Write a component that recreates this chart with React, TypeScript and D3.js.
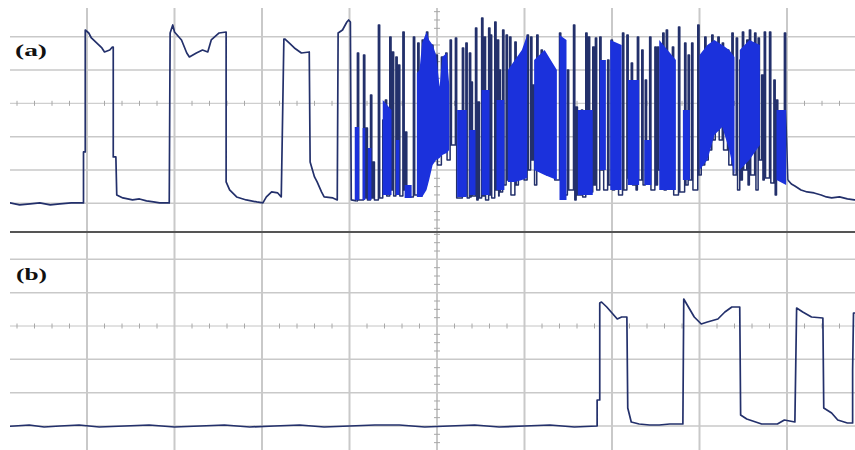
import React from 'react';
import * as d3 from 'd3';

// time in ns (100 ns/div), amplitude in mV (100 mV/div)

// trace (a): three plain pulses before the burst
const preT = [0, 12, 23, 35, 46, 58, 69, 82, 96, 96, 98, 98, 102, 105, 111, 117, 120, 126, 129, 130, 130, 133, 134, 141, 152, 160, 168, 176, 183, 194,
  195, 198, 200, 208, 214, 217, 225, 232, 238, 242, 251, 259, 259, 263, 271, 282, 294, 301, 305, 311, 318, 322,
  323, 325, 326, 331, 337, 345, 354, 355, 360, 363, 368, 371, 381, 386, 387, 392, 397, 399, 401, 402, 408];
const preV = [-302, -299, -305, -302, -299, -305, -302, -299, -299, -146, -146, 220, 211, 196, 181, 166, 154, 160, 169, 169, -161, -161, -275, -284, -290, -287, -293, -296, -299, -299,
  211, 235, 214, 190, 151, 139, 151, 160, 154, 190, 211, 214, -236, -260, -281, -290, -296, -299, -281, -266, -269, -281,
  -125, 193, 193, 181, 166, 151, 154, -176, -221, -236, -266, -281, -284, -290, 211, 220, 244, 250, 244, -290, -293];

// trace (a): the burst, one spike per entry (edge time, top, level after)
const burstT = [409, 416, 419, 424, 427, 433, 438, 441, 446, 449, 453, 456, 461, 464, 473, 478, 483, 488, 494, 499, 505, 510, 515,
  521, 529, 533, 537, 539, 544, 547, 551, 554, 559, 561, 566, 569, 571, 575, 579, 583, 589, 593, 598, 603, 607, 610, 614, 619, 624, 629, 633, 640,
  643, 649, 656, 659, 665, 670, 673, 678, 681, 686, 689, 695, 699, 703, 706, 712, 717, 722, 726, 729, 734, 738, 743, 749, 752, 758, 762,
  769, 776, 783, 787, 791, 798, 802, 806, 810, 814, 818, 821, 826, 832, 837, 842, 846, 849, 854, 857, 863, 867, 871, 874, 880, 885, 888, 897];
const burstHi = [151, 145, -74, 25, -176, 235, -50, 10, 199, 154, 139, 115, 214, -86, 199, 181, 190, 214, 175, 145, 139, 151, 190,
  196, 166, 181, 151, 64, 226, 4, 256, 199, 226, 205, 244, 190, 100, 220, 205, 199, 184, 100, 130, 205, 199, 55, 205, 160, 130, 115, 100, 211,
  190, 100, 235, -11, -20, 211, 199, 169, 196, 199, -65, 130, 190, 115, 139, 211, 205, 121, 25, 199, 160, 70, 199, 169, 169, 211, 220,
  169, 229, 181, 145, 181, 235, 100, 199, 160, 205, 145, 199, 181, 160, 211, 196, 130, 214, 190, 220, 211, 196, 85, 214, 214, 70, 10, 211];
const burstLo = [-290, -284, -290, -284, -290, -284, -266, -278, -260, -278, -272, -278, -260, -281, -275, -278, -245, -140, -110, -185, -140, -170, -125,
  -284, -275, -284, -281, -278, -290, -284, -278, -290, -275, -284, -260, -278, -266, -245, -230, -275, -245, -215, -230, -200, -170, -245, -170, -140, -215, -110, -230, -245,
  -275, -260, -290, -275, -281, -260, -266, -245, -260, -200, -260, -245, -260, -230, -275, -260, -224, -245, -260, -230, -245, -215, -260, -245, -200, -260, -245,
  -275, -266, -245, -230, -260, -215, -185, -170, -140, -110, -80, -110, -140, -185, -215, -260, -230, -200, -245, -215, -260, -170, -230, -224, -239, -275, -224, -20];

// trace (a): decay after the burst
const tailT = [901, 905, 909, 916, 923, 931, 939, 945, 951, 960, 969, 977, 990];
const tailV = [-230, -242, -248, -260, -266, -269, -275, -281, -284, -281, -287, -290, -290];

// trace (a): dense parts of the burst that render as solid colour
const fillT = [406, 411, null, 415, 418, null, 421, 425, null, 438, 448, null, 453, 457, null, 463, 471, null,
  477, 480, 483, 488, 491, 495, 499, 503, 506, 511, 514, null, 523, 534, null, 537, 544, null, 551, 560, null, 568, 577, null,
  581, 589, 597, 603, null, 611, 623, 637, null, 640, 648, null, 661, 678, null, 686, 693, null, 698, 711, null, 718, 731, null,
  737, 745, null, 754, 773, null, 781, 789, null, 800, 809, 817, 826, 834, 840, null, 846, 857, 869, null, 888, 899];
const fillHi = [-71, -71, null, -74, -74, null, -134, -134, null, 10, -20, null, -110, -110, null, -245, -245, null,
  91, 100, 181, 214, 190, 175, 145, 49, 139, 151, 55, null, -20, -20, null, -80, -80, null, 40, 40, null, 10, 10, null,
  100, 130, 160, 205, null, 130, 160, 100, null, 205, 190, null, -20, -20, null, 130, 130, null, 190, 175, null, 70, 70, null,
  -110, -110, null, 190, 130, null, -20, -20, null, 145, 175, 190, 175, 160, 139, null, 160, 190, 175, null, -20, -20];
const fillLo = [-290, -290, null, -290, -290, null, -290, -290, null, -275, -275, null, -275, -275, null, -284, -284, null,
  -281, -281, -281, -260, -230, -185, -170, -164, -155, -149, -140, null, -281, -281, null, -275, -275, null, -275, -275, null, -260, -260, null,
  -236, -236, -230, -224, null, -200, -215, -230, null, -290, -290, null, -275, -275, null, -200, -200, null, -260, -260, null, -245, -245, null,
  -245, -245, null, -260, -260, null, -230, -230, null, -200, -170, -95, -71, -140, -215, null, -200, -170, -125, null, -230, -245];

// trace (b)
const bT = [0, 17, 34, 51, 69, 91, 114, 143, 171, 200, 229, 257, 286, 314, 343, 371, 400, 429, 457, 486, 514, 543, 571, 600, 629, 657, 683, 683, 686, 686, 688, 694, 701, 706, 711, 717,
  718, 720, 722, 731, 743, 754, 766, 781, 782, 786, 794, 802, 809, 821, 829, 837, 846, 847, 854, 871, 889, 897, 909, 911, 918, 928, 941,
  942, 951, 958, 969, 975, 975, 976, 983];
const bV = [-303, -300, -297, -303, -300, -297, -303, -300, -297, -303, -300, -297, -303, -300, -297, -303, -300, -297, -297, -303, -300, -297, -303, -300, -297, -303, -300, -222, -222, 69, 72, 57, 36, 21, 27, 27,
  -246, -267, -288, -294, -297, -297, -294, -294, 81, 63, 27, 6, 12, 21, 42, 57, 57, -267, -279, -294, -294, -282, -288, 54, 42, 27, 24,
  -246, -261, -282, -291, -291, -132, 39, 39];

const W = 855;
const H = 450;
const gridColor = '#c9c9c9';
const traceColor = '#23306b';
const fillColor = '#1b31dc';

const x = d3.scaleLinear().domain([0, 1000]).range([-0.5, 874.5]);
const yA = d3.scaleLinear().domain([-400, 400]).range([236.6, -30]);
const yB = d3.scaleLinear().domain([-400, 400]).range([459.3, 192.7]);

const panels = [
  { id: 'a', y: yA, top: 8, bottom: 232, label: '(a)', lx: 15, ly: 56, lw: 32 },
  { id: 'b', y: yB, top: 232, bottom: H, label: '(b)', lx: 16, ly: 280, lw: 31 },
];

const left = 10;

function burstPts(): [number, number][] {
  const pts: [number, number][] = [[preT[preT.length - 1], preV[preV.length - 1]]];
  let prev = preV[preV.length - 1];
  burstT.forEach((t, i) => {
    pts.push([t, prev], [t, burstHi[i]], [t + 1.5, burstHi[i]], [t + 1.5, burstLo[i]]);
    prev = burstLo[i];
  });
  pts.push([tailT[0], tailV[0]]);
  return pts;
}

const App = () => {
  const majorT = d3.range(0, 1001, 100);
  const minorT = d3.range(0, 1001, 20).filter((t) => t % 100 !== 0);
  const levels = d3.range(-400, 401, 100);
  const minorV = d3.range(-400, 401, 25).filter((v) => v % 100 !== 0);

  const lineA = d3.line<[number, number]>().x((d) => x(d[0])).y((d) => yA(d[1]));
  const lineB = d3.line<[number, number]>().x((d) => x(d[0])).y((d) => yB(d[1]));
  const area = d3
    .area<number | null>()
    .defined((d) => d != null)
    .x((d) => x(d as number))
    .y0((_, i) => yA(fillLo[i] as number))
    .y1((_, i) => yA(fillHi[i] as number));

  const prePts: [number, number][] = preT.map((t, i) => [t, preV[i]]);
  const tailPts: [number, number][] = tailT.map((t, i) => [t, tailV[i]]);
  const bPts: [number, number][] = bT.map((t, i) => [t, bV[i]]);

  return (
    <svg width={W} height={H} style={{ position: 'absolute', left: 0, top: 0, background: '#fff' }}>
      <defs>
        {panels.map((p) => (
          <clipPath id={'clip-' + p.id} key={p.id}>
            <rect x={left} y={p.top} width={W - left} height={p.bottom - p.top} />
          </clipPath>
        ))}
      </defs>
      {panels.map((p) => (
        <g key={p.id} clipPath={`url(#clip-${p.id})`}>
          {levels.filter((v) => v !== 0).map((v) => (
            <line key={'h' + v} x1={left} x2={W} y1={p.y(v)} y2={p.y(v)} stroke={gridColor} strokeWidth={1.5} />
          ))}
          {majorT.map((t) => (
            <line key={'v' + t} x1={x(t)} x2={x(t)} y1={p.top} y2={p.bottom} stroke={gridColor} strokeWidth={2} />
          ))}
          <line x1={left} x2={W} y1={p.y(0)} y2={p.y(0)} stroke="#c4c4c4" strokeWidth={1} />
          {minorT.map((t) => (
            <line key={'mt' + t} x1={x(t)} x2={x(t)} y1={p.y(0) - 2.5} y2={p.y(0) + 2.5} stroke="#a8a8a8" strokeWidth={1} />
          ))}
          {minorV.map((v) => (
            <line key={'mv' + v} x1={x(500) - 3} x2={x(500) + 3} y1={p.y(v)} y2={p.y(v)} stroke="#a8a8a8" strokeWidth={1} />
          ))}
          <text x={p.lx} y={p.ly} fontFamily="Liberation Serif, serif" fontWeight="bold" fontSize={16}
            textLength={p.lw} lengthAdjust="spacingAndGlyphs" fill="#111">{p.label}</text>
        </g>
      ))}
      <g clipPath="url(#clip-a)">
        <path d={lineA(prePts) || ''} fill="none" stroke={traceColor} strokeWidth={1.7} strokeLinejoin="round" />
        <path d={lineA(burstPts()) || ''} fill="none" stroke={traceColor} strokeWidth={1.5} strokeLinejoin="round" />
        <path d={area(fillT) || ''} fill={fillColor} />
        <path d={lineA(tailPts) || ''} fill="none" stroke={traceColor} strokeWidth={1.7} strokeLinejoin="round" />
      </g>
      <g clipPath="url(#clip-b)">
        <path d={lineB(bPts) || ''} fill="none" stroke={traceColor} strokeWidth={1.7} strokeLinejoin="round" />
      </g>
      <line x1={left} x2={W} y1={232} y2={232} stroke="#555" strokeWidth={2} />
    </svg>
  );
};

export default App;
